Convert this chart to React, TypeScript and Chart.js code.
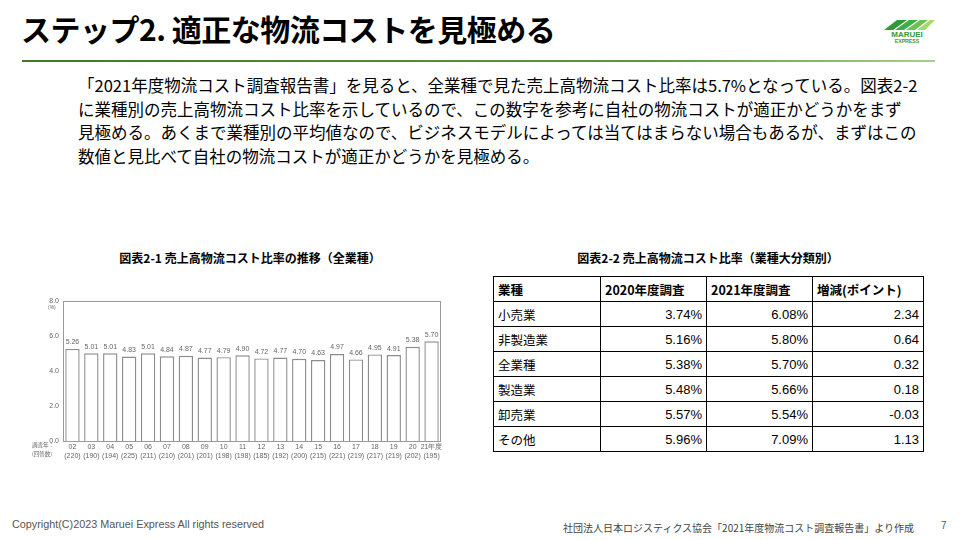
import React, { useEffect, useRef } from "react";
import { Chart, registerables } from "chart.js";

Chart.register(...registerables);

const years = ["02", "03", "04", "05", "06", "07", "08", "09", "10", "11", "12", "13", "14", "15", "16", "17", "18", "19", "20", "21年度"];
const responses = ["220", "190", "194", "225", "211", "210", "201", "201", "198", "198", "185", "192", "200", "215", "221", "219", "217", "219", "202", "195"];
const ratios = [5.26, 5.01, 5.01, 4.83, 5.01, 4.84, 4.87, 4.77, 4.79, 4.9, 4.72, 4.77, 4.7, 4.63, 4.97, 4.66, 4.95, 4.91, 5.38, 5.7];
const yTicks = [0, 2, 4, 6, 8];

const tableHeaders = ["業種", "2020年度調査", "2021年度調査", "増減(ポイント)"];
const industries = ["小売業", "非製造業", "全業種", "製造業", "卸売業", "その他"];
const survey2020 = ["3.74%", "5.16%", "5.38%", "5.48%", "5.57%", "5.96%"];
const survey2021 = ["6.08%", "5.80%", "5.70%", "5.66%", "5.54%", "7.09%"];
const changes = ["2.34", "0.64", "0.32", "0.18", "-0.03", "1.13"];

const paragraphLines = [
  "「2021年度物流コスト調査報告書」を見ると、全業種で見た売上高物流コスト比率は5.7%となっている。図表2-2",
  "に業種別の売上高物流コスト比率を示しているので、この数字を参考に自社の物流コストが適正かどうかをまず",
  "見極める。あくまで業種別の平均値なので、ビジネスモデルによっては当てはまらない場合もあるが、まずはこの",
  "数値と見比べて自社の物流コストが適正かどうかを見極める。",
];

const FONT = "'Noto Sans CJK JP', 'Noto Sans', sans-serif";
const SMALL = "'Liberation Sans', Arial, sans-serif";

function BarChart() {
  const ref = useRef<HTMLCanvasElement | null>(null);
  useEffect(() => {
    if (!ref.current) return;
    const valueLabels = {
      id: "valueLabels",
      afterDatasetsDraw(chart: any) {
        const ctx = chart.ctx;
        const meta = chart.getDatasetMeta(0);
        ctx.save();
        ctx.font = "7px " + SMALL;
        ctx.fillStyle = "#666";
        ctx.textAlign = "center";
        ctx.textBaseline = "bottom";
        meta.data.forEach((el: any, i: number) => {
          ctx.fillText(ratios[i].toFixed(2), el.x, el.y - 3);
        });
        const a = chart.chartArea;
        ctx.strokeStyle = "#9a9a9a";
        ctx.lineWidth = 1;
        ctx.strokeRect(a.left + 0.5, a.top + 0.5, a.right - a.left - 1, a.bottom - a.top);
        ctx.restore();
      },
    };
    const chart = new Chart(ref.current, {
      type: "bar",
      data: {
        labels: years.map((y, i) => [y, "(" + responses[i] + ")"]),
        datasets: [
          {
            data: ratios,
            backgroundColor: "#ffffff",
            borderColor: "#8c8c8c",
            borderWidth: 1.4,
            barPercentage: 0.76,
            categoryPercentage: 1,
          },
        ],
      },
      options: {
        animation: false,
        responsive: false,
        maintainAspectRatio: false,
        layout: { padding: { top: 16, right: 9, left: 0, bottom: 0 } },
        plugins: { legend: { display: false }, tooltip: { enabled: false } },
        scales: {
          x: {
            grid: { display: false, drawTicks: false },
            border: { display: false },
            ticks: {
              color: "#666",
              font: { size: 7, family: SMALL, lineHeight: 1.25 },
              maxRotation: 0,
              autoSkip: false,
              padding: 2,
            },
            afterFit: (s: any) => {
              s.height = 24;
            },
          },
          y: {
            min: 0,
            max: 8,
            afterBuildTicks: (s: any) => {
              s.ticks = yTicks.map((v) => ({ value: v }));
            },
            grid: { display: false, drawTicks: false },
            border: { display: false },
            ticks: {
              color: "#666",
              font: { size: 7, family: SMALL },
              callback: (v: any) => Number(v).toFixed(1),
              padding: 4,
            },
            afterFit: (s: any) => {
              s.width = 43;
            },
          },
        },
      },
      plugins: [valueLabels],
    });
    return () => chart.destroy();
  }, []);
  return <canvas ref={ref} width={430} height={180} style={{ position: "absolute", left: 20, top: 285, width: 430, height: 180 }} />;
}

function Logo() {
  return (
    <svg width="62" height="30" viewBox="0 0 62 30" style={{ position: "absolute", left: 876, top: 14 }}>
      <polygon points="8,16 21,6 31,6 17,16" fill="#2e9a3a" />
      <polygon points="19,16 33,6 42,6 28,16" fill="#3cae46" />
      <polygon points="30,16 44,6 52,6 39,16" fill="#6cc24f" />
      <polygon points="41,16 54,6 59,6 49,16" fill="#a6d86a" />
      <text x="31" y="23" textAnchor="middle" fontFamily={SMALL} fontWeight="bold" fontSize="8" fill="#2e9a3a">MARUEI</text>
      <text x="31" y="28.5" textAnchor="middle" fontFamily={SMALL} fontWeight="bold" fontSize="5.2" fill="#2e9a3a">EXPRESS</text>
    </svg>
  );
}

export default function App() {
  const cellBase: React.CSSProperties = {
    border: "1px solid #000",
    padding: "0 4px",
    height: 24,
    fontSize: 12.5,
    fontFamily: FONT,
  };
  return (
    <div style={{ position: "absolute", left: 0, top: 0, width: 960, height: 540, background: "#fff", overflow: "hidden", fontFamily: FONT, color: "#000" }}>
      <div style={{ position: "absolute", left: 21, top: 6, fontSize: 30, fontWeight: 700, whiteSpace: "nowrap", letterSpacing: -0.5 }}>
        ステップ2. 適正な物流コストを見極める
      </div>
      <div style={{ position: "absolute", left: 22, top: 60, width: 913, height: 2, background: "linear-gradient(to right, #3c7d22, #5c9a38 70%, #a9cf8a)" }} />
      <Logo />
      <div style={{ position: "absolute", left: 78, top: 74, fontSize: 16.5, lineHeight: "23.5px", whiteSpace: "nowrap" }}>
        {paragraphLines.map((l, i) => (
          <div key={i}>{l}</div>
        ))}
      </div>

      <div style={{ position: "absolute", left: 50, width: 400, top: 249, textAlign: "center", fontSize: 12, fontWeight: 700, whiteSpace: "nowrap" }}>
        図表2-1 売上高物流コスト比率の推移（全業種）
      </div>
      <BarChart />
      <div style={{ position: "absolute", left: 48, top: 304, fontSize: 5, color: "#666", fontFamily: SMALL }}>(%)</div>
      <div style={{ position: "absolute", left: 32, top: 441, fontSize: 5.5, color: "#666", lineHeight: "9px", whiteSpace: "nowrap" }}>
        <div>調査年：</div>
        <div>(回答数)</div>
      </div>

      <div style={{ position: "absolute", left: 493, width: 430, top: 249, textAlign: "center", fontSize: 12, fontWeight: 700, whiteSpace: "nowrap" }}>
        図表2-2 売上高物流コスト比率（業種大分類別）
      </div>
      <table style={{ position: "absolute", left: 493, top: 276, width: 430, borderCollapse: "collapse", tableLayout: "fixed" }}>
        <colgroup>
          <col style={{ width: 107 }} />
          <col style={{ width: 106 }} />
          <col style={{ width: 106 }} />
          <col style={{ width: 111 }} />
        </colgroup>
        <thead>
          <tr>
            {tableHeaders.map((h) => (
              <th key={h} style={{ ...cellBase, fontWeight: 700, textAlign: "left", height: 24 }}>{h}</th>
            ))}
          </tr>
        </thead>
        <tbody>
          {industries.map((ind, i) => (
            <tr key={ind}>
              <td style={{ ...cellBase, textAlign: "left" }}>{ind}</td>
              <td style={{ ...cellBase, textAlign: "right", fontFamily: SMALL, fontSize: 13 }}>{survey2020[i]}</td>
              <td style={{ ...cellBase, textAlign: "right", fontFamily: SMALL, fontSize: 13 }}>{survey2021[i]}</td>
              <td style={{ ...cellBase, textAlign: "right", fontFamily: SMALL, fontSize: 13 }}>{changes[i]}</td>
            </tr>
          ))}
        </tbody>
      </table>

      <div style={{ position: "absolute", left: 12, top: 518, fontSize: 10.8, color: "#555", whiteSpace: "nowrap", fontFamily: SMALL }}>
        Copyright(C)2023 Maruei Express All rights reserved
      </div>
      <div style={{ position: "absolute", left: 563, top: 520, fontSize: 10, color: "#444", whiteSpace: "nowrap" }}>
        社団法人日本ロジスティクス協会「2021年度物流コスト調査報告書」より作成
      </div>
      <div style={{ position: "absolute", left: 941, top: 520, fontSize: 10, color: "#555", fontFamily: SMALL }}>7</div>
    </div>
  );
}
